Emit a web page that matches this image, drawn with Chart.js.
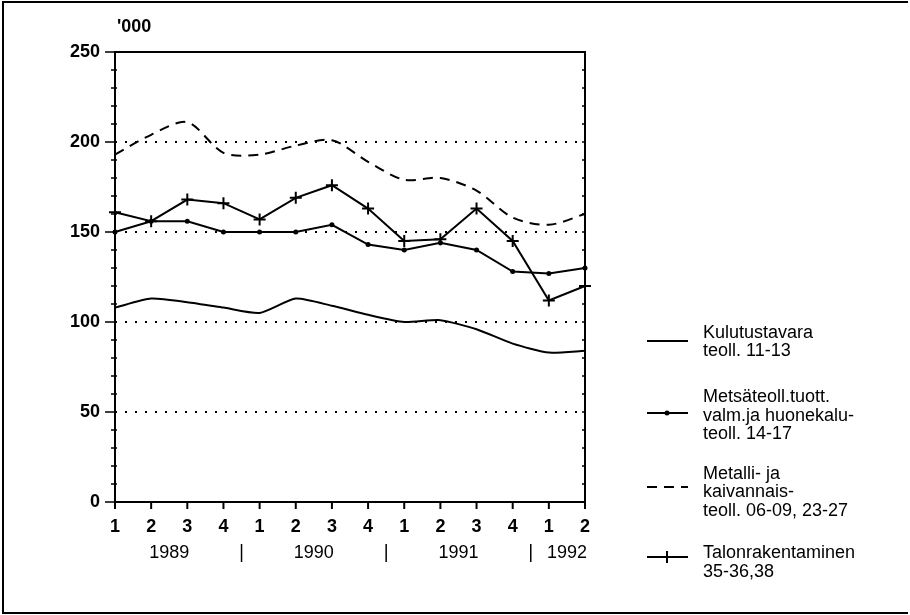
<!DOCTYPE html>
<html>
<head>
<meta charset="utf-8">
<script src="https://cdn.jsdelivr.net/npm/chart.js@4.4.1/dist/chart.umd.min.js"></script>
<style>
  body { margin: 0; background: #fff; }
  canvas { display: block; }
</style>
</head>
<body>
<canvas id="chartcanvas" width="910" height="615"></canvas>
<script>
// quarters 1989 Q1 .. 1992 Q2
var quarters = ["1", "2", "3", "4", "1", "2", "3", "4", "1", "2", "3", "4", "1", "2"];
var years = ["1989", "1990", "1991", "1992"];

// values in thousands
var kulutus = [108, 113, 111, 108, 105, 113, 109, 104, 100, 101, 96, 88, 83, 84];
var metsa   = [150, 156, 156, 150, 150, 150, 154, 143, 140, 144, 140, 128, 127, 130];
var metalli = [193, 204, 211, 194, 193, 198, 201, 189, 179, 180, 173, 158, 154, 160];
var talon   = [161, 156, 168, 166, 157, 169, 176, 163, 145, 146, 163, 145, 112, 120];

var legendLines = [
    ["Kulutustavara", "teoll. 11-13"],
    ["Metsäteoll.tuott.", "valm.ja huonekalu-", "teoll. 14-17"],
    ["Metalli- ja", "kaivannais-", "teoll. 06-09, 23-27"],
    ["Talonrakentaminen", "35-36,38"]
];

var FONT = '"Liberation Sans", Arial, sans-serif';

// frame, ticks, year row and legend
var decorPlugin = {
    id: "decor",
    afterDraw: function (chart) {
        var ctx = chart.ctx;
        var area = chart.chartArea;
        var xs = chart.scales.x;
        var ys = chart.scales.y;

        ctx.save();
        ctx.strokeStyle = "#000";
        ctx.fillStyle = "#000";

        // outer frame
        ctx.lineWidth = 2;
        ctx.beginPath();
        ctx.moveTo(908, 2); ctx.lineTo(3, 2); ctx.lineTo(3, 613); ctx.lineTo(908, 613);
        ctx.stroke();

        // plot box
        ctx.strokeRect(area.left, area.top, area.right - area.left, area.bottom - area.top);

        // y ticks, left and right
        ctx.lineWidth = 1.5;
        for (var v = ys.min; v <= ys.max; v += 10) {
            var py = ys.getPixelForValue(v);
            var major = v % 50 === 0;
            ctx.beginPath();
            ctx.moveTo(area.left - (major ? 10 : 4), py);
            ctx.lineTo(area.left + 2, py);
            ctx.moveTo(area.right - 3, py);
            ctx.lineTo(area.right, py);
            ctx.stroke();
        }

        // x ticks
        ctx.lineWidth = 2;
        for (var i = 0; i < quarters.length; i++) {
            var px = xs.getPixelForValue(i);
            ctx.beginPath();
            ctx.moveTo(px, area.bottom);
            ctx.lineTo(px, area.bottom + 7);
            ctx.stroke();
        }

        // unit label
        ctx.font = "bold 18px " + FONT;
        ctx.textAlign = "left";
        ctx.textBaseline = "middle";
        ctx.fillText("'000", area.left + 2, 27);

        // year row
        ctx.font = "18px " + FONT;
        ctx.textAlign = "center";
        var yRow = 553;
        for (var k = 0; k < years.length; k++) {
            var a = xs.getPixelForValue(k * 4 + 1);
            var b = xs.getPixelForValue(Math.min(k * 4 + 2, quarters.length - 1));
            var cx = k === 3 ? xs.getPixelForValue(12.5) : (a + b) / 2;
            ctx.fillText(years[k], cx, yRow);
            if (k > 0) {
                var sx = (xs.getPixelForValue(k * 4 - 1) + xs.getPixelForValue(k * 4)) / 2;
                ctx.lineWidth = 1.5;
                ctx.beginPath();
                ctx.moveTo(sx, yRow - 9);
                ctx.lineTo(sx, yRow + 9);
                ctx.stroke();
            }
        }

        // legend
        var sampleY = [341, 413, 487, 557];
        var textY = [[333, 351.5], [397, 416, 434], [474, 492, 511], [553, 572]];
        ctx.font = "18px " + FONT;
        ctx.textAlign = "left";
        chart.data.datasets.forEach(function (ds, j) {
            var sy = sampleY[j];
            ctx.lineWidth = 2;
            ctx.setLineDash(ds.borderDash || []);
            ctx.beginPath();
            ctx.moveTo(647, sy);
            ctx.lineTo(688, sy);
            ctx.stroke();
            ctx.setLineDash([]);
            if (ds.pointStyle === "cross") {
                ctx.beginPath();
                ctx.moveTo(667, sy - 6);
                ctx.lineTo(667, sy + 6);
                ctx.stroke();
            } else if (ds.pointRadius > 0) {
                ctx.beginPath();
                ctx.arc(667, sy, 2.5, 0, Math.PI * 2);
                ctx.fill();
            }
            legendLines[j].forEach(function (t, n) {
                ctx.fillText(t, 703, textY[j][n]);
            });
        });

        ctx.restore();
    }
};

var ctx = document.getElementById("chartcanvas");

var chart = new Chart(ctx, {
    type: "line",
    data: {
        labels: quarters,
        datasets: [
            {
                label: legendLines[0].join(" "),
                data: kulutus,
                borderColor: "#000",
                borderWidth: 2,
                pointRadius: 0,
                tension: 0.2
            },
            {
                label: legendLines[1].join(" "),
                data: metsa,
                borderColor: "#000",
                backgroundColor: "#000",
                borderWidth: 2,
                pointRadius: 2.5,
                pointBorderWidth: 0,
                tension: 0
            },
            {
                label: legendLines[2].join(" "),
                data: metalli,
                borderColor: "#000",
                borderWidth: 2,
                borderDash: [10, 7],
                pointRadius: 0,
                tension: 0.3
            },
            {
                label: legendLines[3].join(" "),
                data: talon,
                borderColor: "#000",
                borderWidth: 2,
                pointStyle: "cross",
                pointRadius: 6,
                pointBorderWidth: 2,
                tension: 0
            }
        ]
    },
    options: {
        responsive: false,
        animation: false,
        clip: false,
        layout: {
            padding: { left: 0, top: 52, right: 325, bottom: 0 }
        },
        plugins: {
            legend: { display: false },
            tooltip: { enabled: false }
        },
        scales: {
            x: {
                type: "category",
                offset: false,
                grid: { display: false, drawTicks: false },
                border: { display: false },
                ticks: {
                    color: "#000",
                    font: { family: FONT, size: 18, weight: "bold" },
                    padding: 14,
                    autoSkip: false,
                    maxRotation: 0
                },
                afterFit: function (scale) { scale.height = 113; }
            },
            y: {
                min: 0,
                max: 250,
                border: { display: false, dash: [2, 8] },
                grid: {
                    drawTicks: false,
                    lineWidth: 2,
                    color: function (c) {
                        var v = c.tick && c.tick.value;
                        return (v > 0 && v < 250) ? "#000" : "rgba(0,0,0,0)";
                    }
                },
                ticks: {
                    stepSize: 50,
                    color: "#000",
                    font: { family: FONT, size: 18, weight: "bold" },
                    padding: 15
                },
                afterFit: function (scale) { scale.width = 115; }
            }
        }
    },
    plugins: [decorPlugin]
});
</script>
</body>
</html>
